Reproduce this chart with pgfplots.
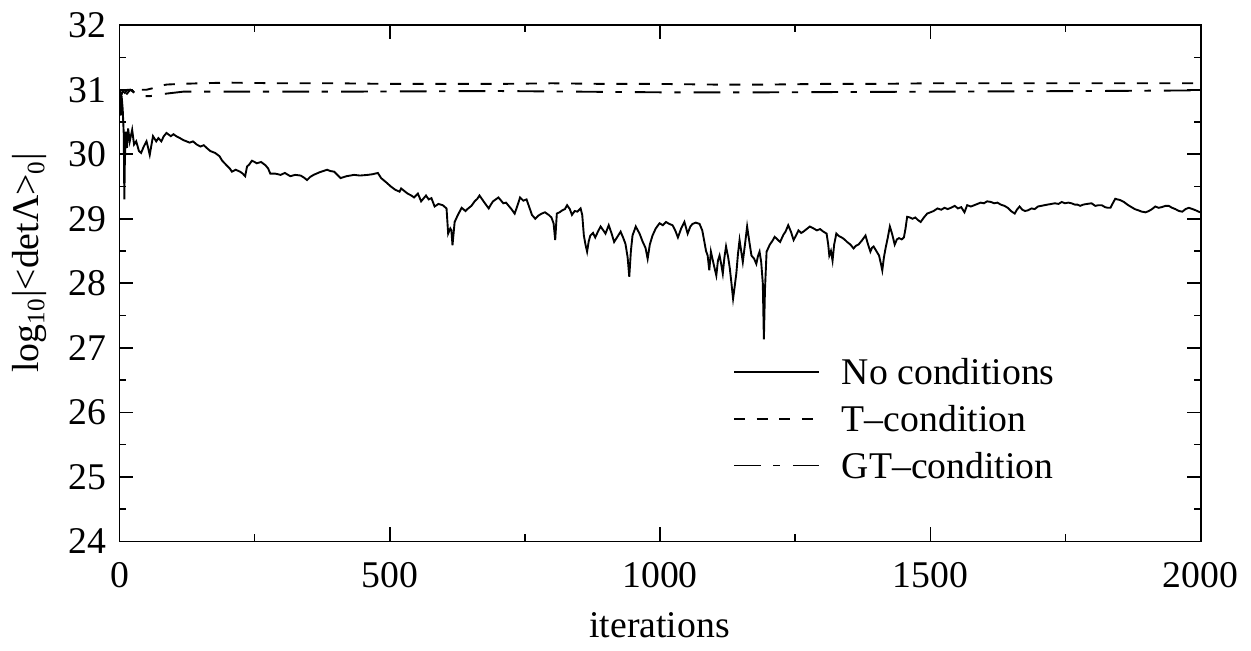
\documentclass[12pt,border=0pt]{standalone}
\usepackage{fontspec}
\setmainfont{Liberation Serif}
\usepackage{pgfplots}
\pgfplotsset{compat=1.18}

\begin{document}
\begin{tikzpicture}
  \begin{axis}[
    scale only axis,
    width=344pt, height=164.2pt,
    xmin=0, xmax=2000, ymin=24, ymax=32,
    xtick={0,500,1000,1500,2000},
    ytick={24,25,26,27,28,29,30,31,32},
    minor x tick num=1, minor y tick num=1,
    tick align=inside, tick pos=both,
    major tick length=4.4pt, minor tick length=2.2pt,
    axis line style={line width=0.5pt},
    every tick/.style={line width=0.5pt, black},
    /pgf/number format/assume math mode=true,
    /pgf/number format/1000 sep={},
    xticklabel style={yshift=-2.5pt},
    xlabel={iterations},
    ylabel={log\textsubscript{10}|<detΛ>\textsubscript{0}|},
    x label style={at={(axis description cs:0.4995,-0.187)}, anchor=base},
    y label style={at={(axis description cs:-0.083,0.54)}, anchor=center},
    legend cell align=left,
    legend image code/.code={\draw[#1] (0pt,0pt) -- (27pt,0pt);},
    legend style={draw=none, fill=none, inner sep=0pt, row sep=0pt,
      column sep=7pt,
      nodes={inner sep=0pt, text height=11.45pt, text depth=3.45pt},
      at={(rel axis cs:0.567,0.375)}, anchor=north west},
    ]
    % No conditions
    \addplot[black, line width=0.6pt] coordinates {
      (0,31.0) (2,30.6) (4,30.9) (6,30.7) (8,30.3) (9,29.3) (10,29.9) (12,30.35)
      (14,30.1) (16,30.4) (19,30.2) (23.5,30.38) (27,30.15) (31,30.2) (36,30.05)
      (40,30.02) (45,30.12) (50,30.2) (53,30.1) (56,29.99) (62,30.28) (68,30.2)
      (72,30.25) (77.5,30.2) (82,30.28) (87,30.33) (95,30.28) (100,30.31)
      (105,30.28) (112,30.25) (118,30.22) (124,30.2) (130,30.18) (136,30.2)
      (143,30.15) (150,30.12) (156,30.14) (161,30.1) (168,30.05) (177,30.02)
      (185,29.97) (190,29.9) (198,29.83) (204,29.78) (208,29.73) (215,29.76)
      (223,29.73) (228,29.7) (232.5,29.66) (236,29.81) (240,29.84) (245,29.9)
      (250,29.88) (254,29.86) (262,29.88) (270,29.83) (275,29.78) (279,29.7)
      (288,29.7) (298,29.68) (306,29.71) (316,29.66) (325,29.68) (335,29.67)
      (341,29.64) (347,29.6) (353,29.65) (359,29.68) (370,29.72) (384,29.76)
      (390,29.74) (397,29.73) (403,29.68) (409,29.63) (420,29.66) (434,29.68)
      (445,29.67) (459,29.68) (468,29.69) (478,29.71) (484,29.63) (494,29.56)
      (502,29.5) (510,29.45) (518,29.42) (521,29.47) (527,29.43) (533,29.39)
      (540,29.36) (545,29.33) (552,29.39) (558,29.27) (563,29.32) (567,29.36)
      (572,29.3) (577,29.32) (583,29.19) (590,29.23) (598,29.21) (605,29.16)
      (608,28.77) (612,28.85) (614,28.82) (616,28.59) (620,28.95) (626,29.06)
      (633,29.17) (640,29.12) (645,29.16) (651,29.2) (657,29.27) (662,29.31)
      (666,29.36) (671,29.3) (676,29.24) (683,29.16) (687,29.22) (691,29.27)
      (696,29.3) (701,29.33) (710,29.24) (715,29.25) (719,29.21) (725,29.15)
      (731,29.08) (736,29.2) (741,29.33) (747,29.28) (753,29.3) (758,29.18)
      (763,29.06) (769,29.0) (775,29.05) (781,29.08) (787,29.1) (794,29.06)
      (799,29.02) (803,28.93) (806,28.67) (809,29.08) (814,29.1) (819,29.13)
      (824,29.15) (828,29.21) (833,29.15) (837,29.06) (842,29.12) (847,29.11)
      (853,29.16) (856,29.06) (859,28.74) (862,28.6) (865,28.49) (868,28.65)
      (871,28.74) (876,28.78) (880,28.71) (885,28.8) (890,28.88) (895,28.82)
      (899,28.77) (905,28.9) (910,28.78) (915,28.64) (921,28.72) (927,28.8)
      (932,28.7) (936,28.61) (940,28.4) (943,28.1) (946,28.5) (949,28.74)
      (955,28.88) (962,28.77) (968,28.64) (973,28.55) (977,28.38) (981,28.6)
      (986,28.74) (992,28.85) (999,28.93) (1005,28.9) (1011,28.95) (1017,28.92)
      (1023,28.9) (1028,28.82) (1033,28.71) (1039,28.85) (1045,28.95) (1051,28.77)
      (1056,28.88) (1060,28.92) (1066,28.94) (1073,28.92) (1078,28.82) (1082,28.64)
      (1085,28.5) (1088,28.43) (1091,28.2) (1094,28.49) (1099,28.3) (1104,28.12)
      (1107,28.35) (1110,28.43) (1113,28.3) (1116,28.15) (1119,28.4) (1122,28.57)
      (1126,28.4) (1129,28.23) (1132,28.0) (1135,27.76) (1138,27.95) (1141,28.15)
      (1144,28.45) (1147,28.67) (1150,28.5) (1153,28.33) (1157,28.6) (1161,28.88)
      (1165,28.65) (1169,28.43) (1174,28.38) (1178,28.3) (1181,28.42) (1184,28.49)
      (1187,28.33) (1190,28.0) (1192,27.13) (1194,27.9) (1197,28.49) (1203,28.6)
      (1208,28.66) (1212,28.72) (1217,28.68) (1222,28.64) (1228,28.75) (1232,28.8)
      (1237,28.9) (1242,28.8) (1247,28.67) (1252,28.75) (1256,28.82) (1261,28.78)
      (1265,28.8) (1271,28.84) (1277,28.88) (1284,28.85) (1290,28.82) (1296,28.84)
      (1302,28.8) (1308,28.77) (1311,28.6) (1313,28.43) (1316,28.5) (1319,28.35)
      (1322,28.6) (1326,28.77) (1331,28.73) (1336,28.71) (1341,28.68) (1346,28.64)
      (1352,28.6) (1358,28.54) (1362,28.58) (1367,28.6) (1373,28.66) (1380,28.74)
      (1384,28.62) (1389,28.49) (1392,28.55) (1395,28.57) (1400,28.5) (1405,28.43)
      (1408,28.32) (1411,28.2) (1414,28.4) (1417,28.54) (1421,28.7) (1425,28.88)
      (1429,28.77) (1434,28.6) (1438,28.68) (1442,28.7) (1447,28.68) (1451,28.71)
      (1454,28.85) (1457,29.03) (1462,29.02) (1467,29.0) (1472,29.02) (1477,28.98)
      (1482,28.95) (1488,29.02) (1494,29.08) (1500,29.1) (1506,29.12) (1513,29.16)
      (1520,29.14) (1526,29.17) (1532,29.15) (1538,29.17) (1545,29.2) (1551,29.16)
      (1557,29.18) (1563,29.1) (1568,29.21) (1575,29.19) (1581,29.21) (1587,29.23)
      (1593,29.25) (1599,29.24) (1605,29.27) (1612,29.26) (1618,29.24) (1624,29.25)
      (1630,29.22) (1637,29.2) (1643,29.17) (1649,29.12) (1656,29.08) (1660,29.14)
      (1665,29.19) (1670,29.14) (1675,29.12) (1680,29.13) (1687,29.16) (1693,29.15)
      (1699,29.19) (1705,29.2) (1711,29.21) (1717,29.22) (1724,29.23) (1730,29.24)
      (1737,29.23) (1743,29.26) (1749,29.24) (1755,29.25) (1761,29.24) (1767,29.22)
      (1772,29.22) (1777,29.2) (1783,29.22) (1790,29.23) (1798,29.24) (1805,29.2)
      (1811,29.21) (1817,29.21) (1823,29.18) (1828,29.17) (1833,29.17) (1838,29.25)
      (1842,29.31) (1846,29.3) (1851,29.29) (1858,29.26) (1866,29.21) (1872,29.18)
      (1878,29.15) (1885,29.13) (1891,29.11) (1898,29.1) (1904,29.12) (1910,29.15)
      (1916,29.19) (1922,29.17) (1928,29.18) (1935,29.2) (1941,29.2) (1947,29.17)
      (1953,29.15) (1960,29.12) (1966,29.11) (1972,29.15) (1978,29.17) (1985,29.15)
      (1991,29.13) (1996,29.11) (2000,29.1)
    };
    \addlegendentry{No conditions}

    % T-condition
    \addplot[black, line width=0.6pt, dash pattern=on 3.5pt off 3.7pt] coordinates {
      (0,31.0) (3,30.85) (6,30.95) (10,30.9) (15,30.95) (20,31.0) (25,30.98)
      (31,30.92) (37,31.0) (50,31.0) (60,31.02) (75,31.06) (87,31.08) (110,31.09)
      (150,31.1) (200,31.11) (300,31.1) (400,31.1) (500,31.09) (600,31.09)
      (700,31.09) (800,31.1) (900,31.09) (1000,31.09) (1100,31.08) (1200,31.08)
      (1300,31.09) (1400,31.09) (1500,31.1) (1600,31.1) (1700,31.1) (1800,31.1)
      (1900,31.1) (2000,31.1)
    };
    \addlegendentry{T\textendash condition}

    % GT-condition
    \addplot[black, line width=0.6pt, dash pattern=on 8.5pt off 4pt on 2pt off 4.2pt] coordinates {
      (0,31.0) (3,30.9) (6,30.98) (10,30.95) (15,31.0) (20,31.0) (25,30.97)
      (31,30.92) (40,30.9) (56,30.9) (70,30.92) (87,30.94) (118,30.97) (200,30.97)
      (400,30.97) (700,30.98) (1000,30.96) (1200,30.96) (1500,30.97) (1800,30.98)
      (2000,30.99)
    };
    \addlegendentry{GT\textendash condition}

    % page extent of the reference
    \path (rel axis cs:-0.1116,-0.1988) rectangle (rel axis cs:1.0521,1.0351);
  \end{axis}
\end{tikzpicture}
\end{document}
